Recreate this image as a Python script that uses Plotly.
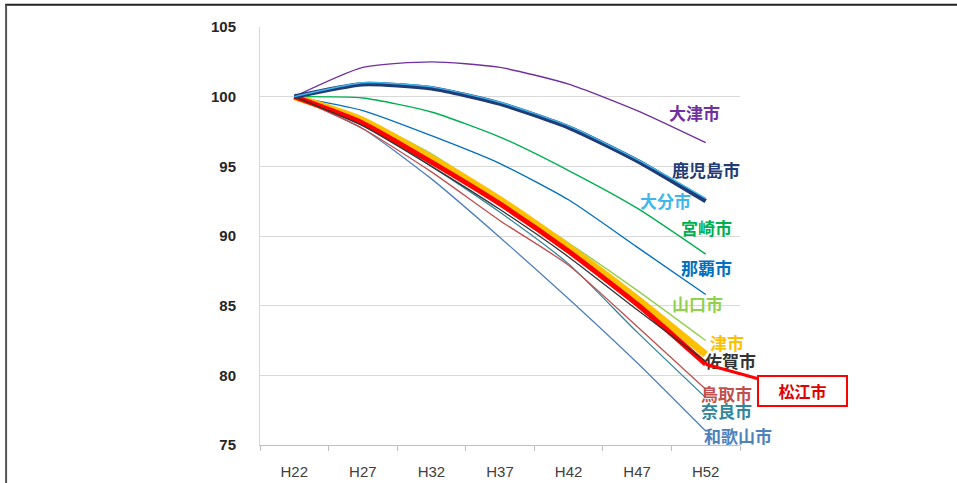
import plotly.graph_objects as go

# Population index (H22 = 100) projected for prefectural capital cities
years = ["H22", "H27", "H32", "H37", "H42", "H47", "H52"]

otsu = [100, 102.1, 102.5, 102.1, 100.9, 99.0, 96.7]
kagoshima = [100, 100.9, 100.6, 99.5, 97.8, 95.4, 92.5]
oita = [100, 101.0, 100.7, 99.6, 97.9, 95.5, 92.7]
miyazaki = [100, 99.9, 98.9, 97.1, 94.7, 92.0, 88.7]
naha = [100, 99.0, 97.2, 95.2, 92.6, 89.2, 85.8]
yamaguchi = [100, 98.4, 95.9, 92.7, 89.5, 86.1, 82.5]
tsu = [100, 98.3, 95.6, 92.6, 89.2, 85.5, 81.5]
matsue = [100, 98.1, 95.3, 92.3, 88.9, 85.1, 80.8]
saga = [100, 97.9, 95.0, 91.9, 88.5, 84.7, 81.0]
tottori = [100, 97.7, 94.6, 91.1, 87.9, 83.5, 79.0]
nara = [100, 98.0, 95.0, 91.7, 88.0, 83.1, 78.4]
wakayama = [100, 97.7, 94.1, 89.9, 85.5, 80.9, 76.0]

y_ticks = [75, 80, 85, 90, 95, 100, 105]

# (name, values, colour, width, label x-shift, label y-shift)
series = [
    ("和歌山市", wakayama, "#4f81bd", 1.3, -4, -4),
    ("奈良市", nara, "#31859c", 1.3, -7, -13),
    ("鳥取市", tottori, "#c0504d", 1.3, -7, -4),
    ("大津市", otsu, "#7030a0", 1.4, -39, 30),
    ("宮崎市", miyazaki, "#00b050", 1.4, -27, 27),
    ("那覇市", naha, "#0070c0", 1.4, -27, 27),
    ("山口市", yamaguchi, "#92d050", 1.4, -36, 37),
    ("津市", tsu, "#ffc000", 7, 2, 12),
    ("松江市", matsue, "#ff0000", 5, None, None),
    ("佐賀市", saga, "#333333", 1.3, -3, 1),
    ("鹿児島市", kagoshima, "#1f3c78", 4.5, -36, 32),
    ("大分市", oita, "#3fb6ec", 1.4, -68, -2),
]

fig = go.Figure()
for name, vals, color, width, dx, dy in series:
    fig.add_trace(go.Scatter(
        x=years, y=vals, mode="lines", name=name,
        line=dict(color=color, width=width, shape="spline", smoothing=0.6),
        showlegend=False, hoverinfo="skip",
    ))
    if dx is not None:
        fig.add_annotation(
            x=years[-1], y=vals[-1], xref="x", yref="y",
            text=f"<b>{name}</b>", showarrow=False,
            xanchor="left", yanchor="middle", xshift=dx, yshift=dy,
            font=dict(family="Noto Sans CJK JP", size=17, color=color),
        )

# Callout box for the highlighted city
fig.add_annotation(
    x=years[-1], y=matsue[-1], xref="x", yref="y",
    text="<b>松江市</b>", showarrow=True, arrowhead=0,
    arrowcolor="#ff0000", arrowwidth=3,
    ax=97, ay=27, axref="pixel", ayref="pixel",
    bordercolor="#ff0000", borderwidth=2, borderpad=4,
    bgcolor="white", width=79, height=20,
    font=dict(family="Noto Sans CJK JP", size=16, color="#e00000"),
)

# Frame lines along the top and left of the page
fig.add_shape(type="line", xref="paper", yref="paper",
              x0=-0.531, x1=1.46, y0=1.053, y1=1.053,
              line=dict(color="#222222", width=2))
fig.add_shape(type="line", xref="paper", yref="paper",
              x0=-0.529, x1=-0.529, y0=1.053, y1=-0.1,
              line=dict(color="#555555", width=2))

fig.update_layout(
    width=957, height=483,
    margin=dict(l=260, r=217, t=27, b=38),
    paper_bgcolor="white", plot_bgcolor="white",
    xaxis=dict(
        type="category", range=[-0.5, 6.5], automargin=False,
        showgrid=False, showline=True, linecolor="#bfbfbf", linewidth=1,
        ticks="outside", tickson="boundaries", ticklen=5, tickcolor="#bfbfbf",
        ticklabelstandoff=13,
        tickfont=dict(family="Liberation Sans", size=15, color="#404040"),
    ),
    yaxis=dict(
        range=[75, 105], tickvals=y_ticks, automargin=False,
        showgrid=True, gridcolor="#d9d9d9", gridwidth=1,
        showline=True, linecolor="#d9d9d9", zeroline=False,
        ticks="", ticklabelstandoff=20,
        tickfont=dict(family="Liberation Sans", size=15, color="#262626", weight="bold"),
    ),
)

fig.write_html("out.html")
